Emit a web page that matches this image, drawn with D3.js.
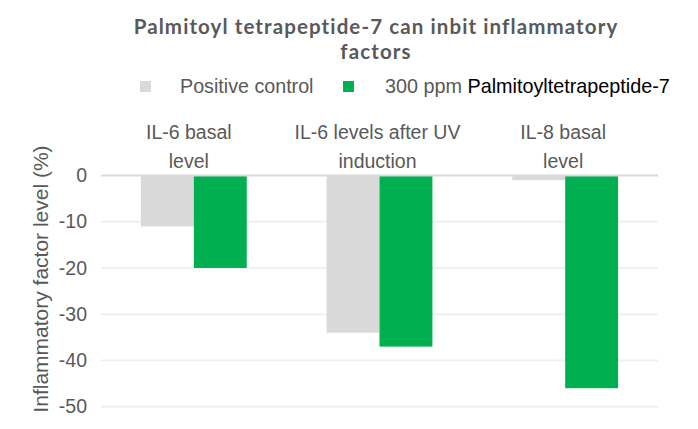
<!DOCTYPE html>
<html>
<head>
<meta charset="utf-8">
<script src="https://cdn.jsdelivr.net/npm/d3@7"></script>
<style>
  body { margin: 0; background: #fff; }
  text { font-family: "Liberation Sans", Arial, sans-serif; }
</style>
</head>
<body>
<div id="chart"></div>
<script>
// data
const categories = ["IL-6 basal level", "IL-6 levels after UV induction", "IL-8 basal level"];
const categoryLines = [["IL-6 basal", "level"], ["IL-6 levels after UV", "induction"], ["IL-8 basal", "level"]];
const seriesNames = ["Positive control", "300 ppm Palmitoyltetrapeptide-7"];
const positiveControl = [-11, -34, -1];
const palmitoyl = [-20, -37, -46];
const yTicks = [0, -10, -20, -30, -40, -50];
const titleLines = ["Palmitoyl tetrapeptide-7 can inbit inflammatory", "factors"];

const colors = ["#d9d9d9", "#00b050"];
const width = 698, height = 429;
const margin = { top: 175.5, bottom: 22.3, left: 101, right: 40 };

const svg = d3.select("#chart").append("svg")
  .attr("width", width)
  .attr("height", height);

const x0 = d3.scaleBand()
  .domain(categories)
  .range([margin.left, width - margin.right])
  .padding(0);

const barW = x0.bandwidth() * 0.285;
const x1 = d3.scaleBand()
  .domain(seriesNames)
  .range([x0.bandwidth() / 2 - barW, x0.bandwidth() / 2 + barW]);

const y = d3.scaleLinear()
  .domain([-50, 0])
  .range([height - margin.bottom, margin.top]);

// gridlines
svg.append("g")
  .selectAll("line")
  .data(yTicks.filter(d => d !== 0))
  .join("line")
  .attr("x1", margin.left)
  .attr("x2", width - margin.right)
  .attr("y1", d => y(d))
  .attr("y2", d => y(d))
  .attr("stroke", "#f0f0f0")
  .attr("stroke-width", 2);

// bars
const rows = categories.map((c, i) => ({ cat: c, values: [positiveControl[i], palmitoyl[i]] }));
svg.append("g")
  .selectAll("g")
  .data(rows)
  .join("g")
  .attr("transform", d => `translate(${x0(d.cat)},0)`)
  .selectAll("rect")
  .data(d => d.values.map((v, j) => ({ s: seriesNames[j], v, j })))
  .join("rect")
  .attr("x", d => x1(d.s))
  .attr("width", x1.bandwidth())
  .attr("y", y(0))
  .attr("height", d => y(d.v) - y(0))
  .attr("fill", d => colors[d.j]);

// zero line
svg.append("line")
  .attr("x1", margin.left)
  .attr("x2", width - margin.right)
  .attr("y1", y(0))
  .attr("y2", y(0))
  .attr("stroke", "#d9d9d9")
  .attr("stroke-width", 2);

// y axis labels (plain hyphen minus like the original)
const yAxis = d3.axisLeft(y).tickValues(yTicks).tickFormat(d => String(d)).tickSize(0).tickPadding(0);
svg.append("g")
  .attr("transform", `translate(${margin.left - 14},0)`)
  .call(yAxis)
  .call(g => g.select(".domain").remove())
  .call(g => g.selectAll("text")
    .attr("fill", "#595959")
    .style("font-size", "19.5px")
    .style("font-family", "'Liberation Sans', Arial, sans-serif"));

// category labels above the plot
svg.append("g")
  .selectAll("text")
  .data(categories)
  .join("text")
  .attr("x", (d, i) => x0(d) + x0.bandwidth() / 2 - (i === 0 ? 5 : 2))
  .attr("y", 139)
  .attr("text-anchor", "middle")
  .attr("fill", "#595959")
  .style("font-size", "19.5px")
  .selectAll("tspan")
  .data((d, i) => categoryLines[i])
  .join("tspan")
  .attr("x", function () { return d3.select(this.parentNode).attr("x"); })
  .attr("dy", (d, i) => i === 0 ? 0 : 29)
  .text(d => d);

// y axis title
svg.append("text")
  .attr("transform", `translate(48,279) rotate(-90)`)
  .attr("text-anchor", "middle")
  .attr("fill", "#595959")
  .style("font-size", "21px")
  .text("Inflammatory factor level (%)");

// chart title, two separate lines
svg.append("g")
  .selectAll("text")
  .data(titleLines)
  .join("text")
  .attr("x", 376)
  .attr("y", (d, i) => 34 + i * 24.7)
  .attr("text-anchor", "middle")
  .attr("fill", "#595959")
  .style("font-size", "20.5px")
  .style("font-weight", "bold")
  .style("letter-spacing", "1.1px")
  .style("font-family", "Lato, sans-serif")
  .text(d => d);

// legend
const legend = svg.append("g");
const legendX = [140, 343];
legend.selectAll("rect")
  .data(seriesNames)
  .join("rect")
  .attr("x", (d, i) => legendX[i])
  .attr("y", 81)
  .attr("width", 11)
  .attr("height", 11)
  .attr("fill", (d, i) => colors[i]);

legend.append("text")
  .attr("x", 180).attr("y", 93)
  .attr("fill", "#595959")
  .style("font-size", "19.7px")
  .text(seriesNames[0]);

const lt = legend.append("text")
  .attr("x", 385).attr("y", 93)
  .style("font-size", "19.8px");
lt.append("tspan").attr("fill", "#595959").text("300 ppm ");
lt.append("tspan").attr("fill", "#000").text("Palmitoyltetrapeptide-7");
</script>
</body>
</html>
